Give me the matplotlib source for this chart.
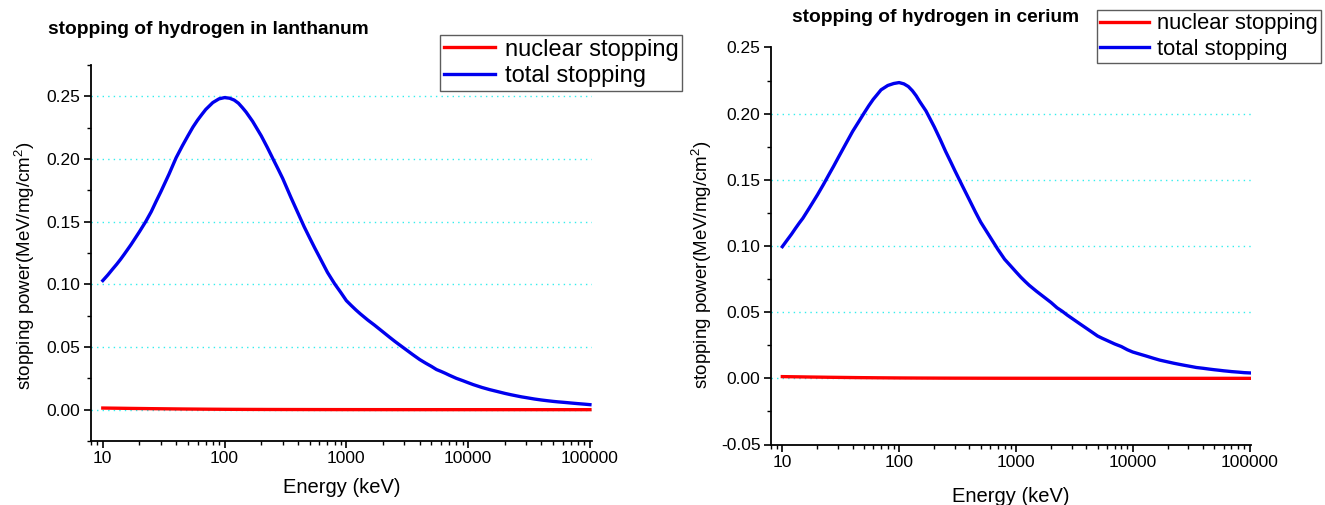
import numpy as np
import matplotlib
matplotlib.use('Agg')
import matplotlib.pyplot as plt
from matplotlib.ticker import MultipleLocator, LogLocator, FuncFormatter, NullFormatter

plt.rcParams['font.family'] = ['Liberation Sans', 'DejaVu Sans']

# Energies (keV) of the stopping tables
energy = [10, 11, 12, 13, 14, 15, 17, 20, 22.5, 25, 27.5, 30,
          35, 40, 45, 50, 55, 60, 65, 70, 80, 90, 100,
          110, 120, 130, 140, 150, 170, 200, 225, 250, 275, 300,
          350, 400, 450, 500, 550, 600, 650, 700, 800, 900, 1000,
          1100, 1200, 1300, 1500, 1700, 2000, 2250, 2500, 2750, 3000,
          3500, 4000, 4500, 5000, 5500, 6000, 6500, 7000, 8000, 9000, 10000,
          11000, 12000, 13000, 15000, 17000, 20000, 22500, 25000, 27500, 30000,
          35000, 40000, 45000, 50000, 55000, 60000, 65000, 70000, 80000, 90000, 100000]

# hydrogen in lanthanum, total stopping (MeV/mg/cm2)
la_total = [0.103, 0.1075, 0.112, 0.116, 0.120, 0.124, 0.1315, 0.142, 0.150, 0.158, 0.1665, 0.174,
            0.188, 0.201, 0.2105, 0.2185, 0.2255, 0.231, 0.2355, 0.2395, 0.245, 0.248, 0.249,
            0.2485, 0.247, 0.2445, 0.241, 0.2375, 0.230, 0.2185, 0.209, 0.200, 0.192, 0.1845,
            0.1695, 0.157, 0.146, 0.137, 0.129, 0.122, 0.1155, 0.1095, 0.1005, 0.0935, 0.087,
            0.083, 0.0795, 0.0765, 0.0715, 0.0675, 0.062, 0.058, 0.0545, 0.0515, 0.0488,
            0.044, 0.040, 0.037, 0.0345, 0.032, 0.0305, 0.029, 0.0275, 0.025, 0.0232, 0.0215,
            0.020, 0.0188, 0.0177, 0.016, 0.0147, 0.013, 0.0119, 0.011, 0.0102, 0.0096,
            0.0085, 0.0077, 0.0071, 0.0066, 0.0062, 0.0059, 0.0056, 0.0053, 0.0048, 0.0044, 0.0040]

# hydrogen in cerium, total stopping (MeV/mg/cm2)
ce_total = [0.0995, 0.1045, 0.109, 0.1135, 0.1175, 0.121, 0.1286, 0.1387, 0.1465, 0.1538, 0.1603, 0.1665,
            0.1773, 0.1866, 0.1938, 0.2003, 0.206, 0.2108, 0.2145, 0.218, 0.2213, 0.2228, 0.2235,
            0.2225, 0.2205, 0.2173, 0.2135, 0.2092, 0.202, 0.190, 0.1805, 0.1715, 0.164, 0.157,
            0.145, 0.1348, 0.1257, 0.118, 0.1122, 0.1069, 0.102, 0.0975, 0.090, 0.085, 0.0805,
            0.0765, 0.0732, 0.0703, 0.0658, 0.0621, 0.0573, 0.0533, 0.0506, 0.0478, 0.0455,
            0.0414, 0.0379, 0.0348, 0.032, 0.0302, 0.0287, 0.0273, 0.026, 0.024, 0.0216, 0.0199,
            0.0188, 0.0178, 0.0169, 0.0152, 0.0138, 0.0124, 0.0114, 0.0106, 0.0099, 0.0093,
            0.0082, 0.0076, 0.0070, 0.0065, 0.0061, 0.0057, 0.0054, 0.0051, 0.0047, 0.0043, 0.0041]

# nuclear stopping (MeV/mg/cm2), practically the same for both targets
la_nuclear = [0.0013, 0.00125, 0.0012, 0.00116, 0.00112, 0.00108, 0.00100, 0.00092, 0.00086, 0.00080, 0.00076, 0.00072,
              0.00065, 0.00059, 0.00054, 0.00050, 0.00047, 0.00044, 0.00041, 0.00039, 0.00035, 0.00032, 0.00029,
              0.00027, 0.00025, 0.00024, 0.00022, 0.00021, 0.00019, 0.00017, 0.00015, 0.00014, 0.00013, 0.00012,
              0.00011, 0.0001, 0.00009, 0.00008, 0.000075, 0.00007, 0.000065, 0.00006, 0.000054, 0.000049, 0.000045,
              0.000041, 0.000038, 0.000036, 0.000032, 0.000029, 0.000025, 0.000023, 0.000021, 0.000019, 0.000018,
              0.000016, 0.000014, 0.000013, 0.000012, 0.000011, 0.00001, 0.0000095, 0.000009, 0.000008, 0.0000072, 0.0000066,
              0.000006, 0.0000056, 0.0000052, 0.0000046, 0.0000041, 0.0000036, 0.0000033, 0.000003, 0.0000028, 0.0000026,
              0.0000023, 0.000002, 0.0000018, 0.0000016, 0.0000015, 0.0000014, 0.0000013, 0.0000012, 0.0000011, 0.000001, 0.0000009]
ce_nuclear = la_nuclear

yticks_fmt = FuncFormatter(lambda v, p: '%.2f' % v)
xticks_fmt = FuncFormatter(lambda v, p: '%d' % v)


def style_axes(ax, ylim, xlim, grid_levels, xlabelpad, ylabel_xy):
    ax.set_xscale('log')
    ax.set_xlim(*xlim)
    ax.set_ylim(*ylim)
    ax.spines['top'].set_visible(False)
    ax.spines['right'].set_visible(False)
    ax.spines['left'].set_linewidth(1.3)
    ax.spines['bottom'].set_linewidth(1.3)
    ax.yaxis.set_major_locator(MultipleLocator(0.05))
    ax.yaxis.set_minor_locator(MultipleLocator(0.025))
    ax.yaxis.set_major_formatter(yticks_fmt)
    ax.xaxis.set_major_locator(LogLocator(base=10, numticks=10))
    ax.xaxis.set_minor_locator(LogLocator(base=10, subs=np.arange(2, 10), numticks=20))
    ax.xaxis.set_major_formatter(xticks_fmt)
    ax.xaxis.set_minor_formatter(NullFormatter())
    ax.tick_params(which='major', direction='out', length=5, width=1.2, labelsize=12.5, pad=2.5)
    ax.tick_params(which='minor', direction='out', length=3, width=1.0)
    for lev in grid_levels:
        ax.axhline(lev, color='#33eeee', linestyle=(0, (1, 3)), linewidth=1.0, zorder=0)
    ax.set_xlabel('Energy (keV)', fontsize=14.5, labelpad=xlabelpad)
    ax.set_ylabel('stopping power(MeV/mg/cm$^\\mathregular{2}$)', fontsize=13.5)
    ax.yaxis.set_label_coords(*ylabel_xy)


def draw(ax, total, nuclear, title, legend_xy, legend_size, title_xy, fig):
    ax.plot(energy, nuclear, color='#ff0000', linewidth=2.4, label='nuclear stopping')
    ax.plot(energy, total, color='#0000ee', linewidth=2.4, label='total stopping')
    fig.text(title_xy[0], title_xy[1], title, fontsize=13.8, fontweight='bold',
             ha='left', va='center')
    leg = ax.legend(loc='upper left', bbox_to_anchor=legend_xy,
                    bbox_transform=fig.transFigure, fontsize=legend_size, frameon=True,
                    fancybox=False, handlelength=2.2, handletextpad=0.4,
                    borderpad=0.15, labelspacing=0.2, borderaxespad=0)
    leg.get_frame().set_edgecolor('#333333')
    leg.get_frame().set_linewidth(1.0)


def main():
    fig = plt.figure(figsize=(13.25, 5.05), dpi=100)

    ax1 = fig.add_axes([91 / 1325, 64 / 505, 501 / 1325, 376 / 505])
    style_axes(ax1, (-0.025, 0.275), (8.0, 1.04e5), [0.0, 0.05, 0.10, 0.15, 0.20, 0.25],
               8, (-0.107, 0.465))
    draw(ax1, la_total, la_nuclear, 'stopping of hydrogen in lanthanum',
         (440 / 1325, 1 - 35 / 505), 17, (48 / 1325, 1 - 30 / 505), fig)

    ax2 = fig.add_axes([771 / 1325, 60.5 / 505, 480 / 1325, 397 / 505])
    style_axes(ax2, (-0.05, 0.25), (8.0, 1.03e5), [0.0, 0.05, 0.10, 0.15, 0.20],
               12, (-0.118, 0.452))
    draw(ax2, ce_total, ce_nuclear, 'stopping of hydrogen in cerium',
         (1097 / 1325, 1 - 10 / 505), 15.8, (792 / 1325, 1 - 17 / 505), fig)

    fig.savefig('out.png', dpi=100)


if __name__ == "__main__":
    main()
